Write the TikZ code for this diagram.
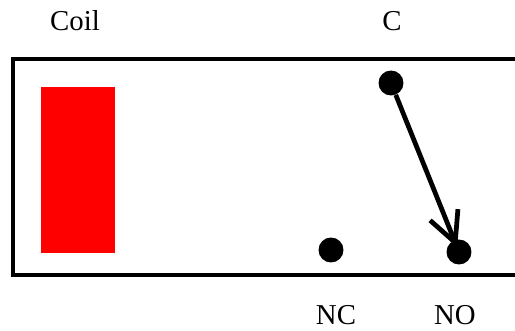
\documentclass[tikz,border=0pt]{standalone}
\usepackage{fontspec}
\setmainfont{Liberation Serif}
\usetikzlibrary{arrows.meta}
\tikzset{
  contact/.style={circle,fill=black,inner sep=0pt,minimum size=0.5cm},
  lbl/.style={anchor=base,inner sep=0pt,font=\fontsize{16.4}{18}\selectfont},
  wire/.style={line width=0.07cm}
}

\begin{document}
\begin{tikzpicture}[x=0.02cm,y=-0.02cm]
  \useasboundingbox (0,0) rectangle (515,331);
  \draw[wire] (515,59) -- (13,59) -- (13,275) -- (515,275);
  \node[fill=red,inner sep=0pt,minimum width=1.48cm,minimum height=3.32cm] (coil) at (78,170) {};
  \node[contact] (c) at (391,83) {};
  \node[contact] (nc) at (331,250) {};
  \node[contact] (no) at (459,252) {};
  \node[lbl] (coillbl) at (75,31) {Coil};
  \node[lbl] (clbl) at (392,31) {C};
  \node[lbl] (nclbl) at (336,325) {NC};
  \node[lbl] (nolbl) at (455,325) {NO};
  \draw[line width=0.095cm,shorten >=-0.16cm,-{Straight Barb[length=0.6cm,width=0.6cm]}] (c) -- (no);
\end{tikzpicture}
\end{document}
